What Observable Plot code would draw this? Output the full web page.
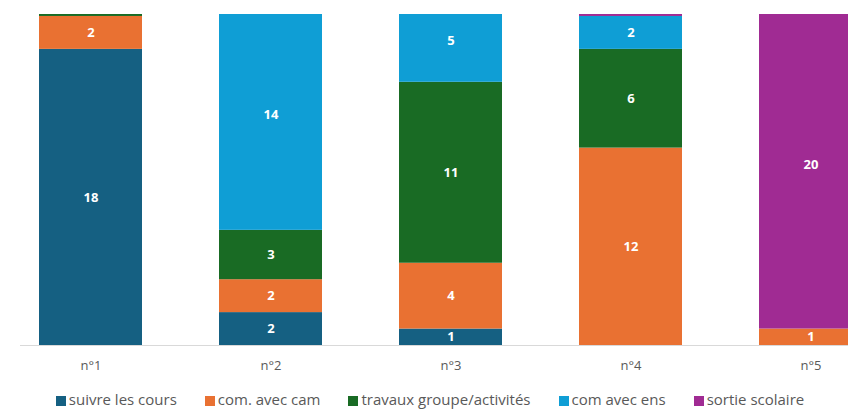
<!DOCTYPE html>
<html>
<head>
<meta charset="utf-8">
<script src="https://cdn.jsdelivr.net/npm/d3@7"></script>
<script src="https://cdn.jsdelivr.net/npm/@observablehq/plot@0.6"></script>
<style>
  html, body { margin: 0; padding: 0; background: #fff; }
  #wrap { width: 848px; height: 409px; overflow: hidden; position: relative; font-family: "Open Sans", sans-serif; }
  #legend { position: absolute; left: 0; top: 389px; width: 848px; display: flex; justify-content: center; gap: 28px; font-size: 15px; color: #595959; padding-left: 12px; box-sizing: border-box; }
  #legend .item { display: flex; align-items: center; gap: 3px; white-space: nowrap; }
  #legend .sw { width: 10px; height: 10px; display: inline-block; margin-top: 3px; }
</style>
</head>
<body>
<div id="wrap">
  <div id="chart"></div>
  <div id="legend"></div>
</div>
<script>
const categories = ["n°1", "n°2", "n°3", "n°4", "n°5"];
const seriesNames = ["suivre les cours", "com. avec cam", "travaux groupe/activités", "com avec ens", "sortie scolaire"];
const seriesColors = ["#156082", "#E97132", "#196B24", "#0F9ED5", "#A02B93"];
const suivreLesCours = [18, 2, 1, 0, 0];
const comAvecCam = [2, 2, 4, 12, 1];
const travauxGroupe = [1, 3, 11, 6, 0];
const comAvecEns = [0, 14, 5, 2, 0];
const sortieScolaire = [0, 0, 0, 1, 20];
const yMax = 20.12;

const seriesValues = [suivreLesCours, comAvecCam, travauxGroupe, comAvecEns, sortieScolaire];
const rows = [];
categories.forEach((c, i) => {
  let base = 0;
  seriesNames.forEach((s, j) => {
    const v = seriesValues[j][i];
    if (v > 0) {
      // label only if its segment's middle lies inside the visible axis range
      rows.push({cat: c, series: s, value: v, labelled: base + v / 2 <= yMax});
      base += v;
    }
  });
});

const chart = Plot.plot({
  width: 848,
  height: 380,
  marginTop: 14,
  marginBottom: 35,
  marginLeft: 20,
  marginRight: 0,
  style: {fontFamily: "'Open Sans', sans-serif", overflow: "hidden"},
  x: {domain: categories, range: [-0.8, 901.7], paddingInner: 0.43, paddingOuter: 0.215, label: null},
  y: {domain: [0, yMax], axis: null},
  color: {domain: seriesNames, range: seriesColors},
  marks: [
    Plot.barY(rows, Plot.stackY({x: "cat", y: "value", z: "series", fill: "series", order: seriesNames, clip: true})),
    Plot.text(rows, Plot.stackY({x: "cat", y: "value", z: "series", order: seriesNames, text: d => d.labelled ? String(d.value) : "", fill: "white", fontWeight: "bold", fontSize: 13, clip: true})),
    Plot.ruleY([0], {stroke: "#d9d9d9", strokeWidth: 1}),
    Plot.axisX({tickSize: 0, tickPadding: 15, fontSize: 13, color: "#595959", label: null})
  ]
});
document.getElementById("chart").appendChild(chart);

const legend = document.getElementById("legend");
seriesNames.forEach((s, j) => {
  const item = document.createElement("div");
  item.className = "item";
  const sw = document.createElement("span");
  sw.className = "sw";
  sw.style.background = seriesColors[j];
  const t = document.createElement("span");
  t.textContent = s;
  item.appendChild(sw);
  item.appendChild(t);
  legend.appendChild(item);
});
</script>
</body>
</html>
